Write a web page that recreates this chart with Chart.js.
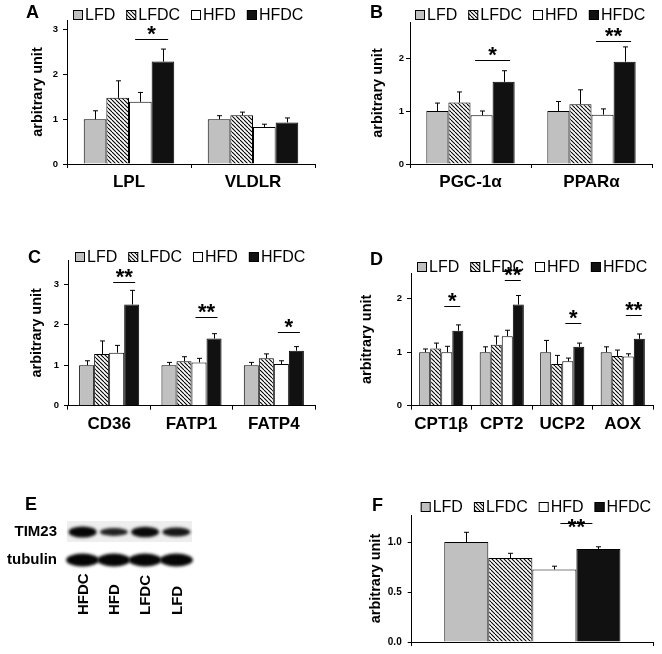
<!DOCTYPE html>
<html>
<head>
<meta charset="utf-8">
<script src="https://cdn.jsdelivr.net/npm/chart.js@4.4.0/dist/chart.umd.min.js"></script>
<style>
  body { margin: 0; background: #fff; }
  #fig { position: relative; width: 662px; height: 654px; font-family: "Liberation Sans", Arial, sans-serif; }
  #fig canvas { position: absolute; }
  .lettre { position: absolute; font-weight: bold; font-size: 18px; line-height: 18px; color: #000; }
</style>
</head>
<body>
<div id="fig">
  <canvas id="chartA" width="331" height="200" style="left:0;top:0"></canvas>
  <canvas id="chartB" width="331" height="200" style="left:331px;top:0"></canvas>
  <canvas id="chartC" width="331" height="230" style="left:0;top:210px"></canvas>
  <canvas id="chartD" width="331" height="230" style="left:331px;top:210px"></canvas>
  <canvas id="chartE" width="200" height="140" style="left:0;top:490px"></canvas>
  <canvas id="chartF" width="331" height="164" style="left:331px;top:490px"></canvas>
  <div class="lettre" style="left:26px;top:3px">A</div>
  <div class="lettre" style="left:370px;top:3px">B</div>
  <div class="lettre" style="left:28px;top:248px">C</div>
  <div class="lettre" style="left:370px;top:250px">D</div>
  <div class="lettre" style="left:25px;top:495px">E</div>
  <div class="lettre" style="left:372px;top:496px">F</div>
</div>
<script>
// ordre des séries dans chaque tableau : LFD, LFDC, HFD, HFDC
const groupes = ['LFD', 'LFDC', 'HFD', 'HFDC'];

// A - lipoprotéines
const genesA = ['LPL', 'VLDLR'];
const moyA = [[1.00, 1.00], [1.48, 1.09], [1.39, 0.83], [2.29, 0.93]];
const semA = [[0.19, 0.08], [0.38, 0.07], [0.21, 0.06], [0.28, 0.10]];
const sigA = [2.80, null];
const etoilesA = ['*', ''];

// B
const genesB = ['PGC-1α', 'PPARα'];
const moyB = [[1.00, 1.00], [1.16, 1.13], [0.92, 0.93], [1.55, 1.93]];
const semB = [[0.15, 0.18], [0.20, 0.27], [0.08, 0.11], [0.21, 0.28]];
const sigB = [1.96, 2.33];
const etoilesB = ['*', '**'];

// C
const genesC = ['CD36', 'FATP1', 'FATP4'];
const moyC = [[1.00, 1.00, 1.00], [1.28, 1.10, 1.17], [1.31, 1.07, 1.03], [2.50, 1.66, 1.36]];
const semC = [[0.11, 0.07, 0.07], [0.32, 0.11, 0.11], [0.18, 0.10, 0.08], [0.35, 0.12, 0.10]];
const sigC = [3.05, 2.18, 1.82];
const etoilesC = ['**', '**', '*'];

// D
const genesD = ['CPT1β', 'CPT2', 'UCP2', 'AOX'];
const moyD = [[1.00, 1.00, 1.00, 1.00], [1.07, 1.14, 0.78, 0.93], [1.00, 1.30, 0.83, 0.92], [1.40, 1.89, 1.10, 1.25]];
const semD = [[0.06, 0.10, 0.22, 0.10], [0.10, 0.16, 0.16, 0.11], [0.11, 0.11, 0.06, 0.05], [0.11, 0.17, 0.07, 0.09]];
const sigD = [1.86, 2.34, 1.55, 1.69];
const etoilesD = ['*', '**', '*', '**'];

// E - western blot (intensité relative des bandes)
const pistesE = ['HFDC', 'HFD', 'LFDC', 'LFD'];
const lignesE = ['TIM23', 'tubulin'];
const tim23E = [1.00, 0.70, 0.95, 0.82];
const tubulinE = [1.00, 1.00, 1.00, 1.00];

// F - TIM23 quantifié
const genesF = [''];
const moyF = [[1.00], [0.84], [0.726], [0.929]];
const semF = [[0.097], [0.047], [0.032], [0.023]];
const sigF = [1.187];
const etoilesF = ['**'];

const police = '"Liberation Sans", Arial, sans-serif';
Chart.defaults.font.family = police;
Chart.defaults.color = '#000';

function hachures() {
  const c = document.createElement('canvas');
  c.width = 4; c.height = 4;
  const g = c.getContext('2d');
  g.fillStyle = '#fff';
  g.fillRect(0, 0, 4, 4);
  g.strokeStyle = '#000';
  g.lineWidth = 1.1;
  for (const k of [-4, 0, 4]) {
    g.beginPath(); g.moveTo(k, 0); g.lineTo(k + 4, 4); g.stroke();
  }
  return g.createPattern(c, 'repeat');
}
const couleurs = ['#c0c0c0', hachures(), '#ffffff', '#111111'];

const legende = {
  id: 'legende',
  afterDraw(chart, args, opts) {
    const ctx = chart.ctx;
    let x = chart.chartArea.left + opts.dx;
    const y = chart.chartArea.top + opts.dy;
    ctx.save();
    ctx.font = '16px ' + police;
    ctx.textBaseline = 'middle';
    chart.data.datasets.forEach(ds => {
      ctx.fillStyle = ds.backgroundColor;
      ctx.fillRect(x, y - 5, 10, 10);
      ctx.strokeStyle = '#000';
      ctx.lineWidth = 1;
      ctx.strokeRect(x + 0.5, y - 4.5, 9, 9);
      ctx.fillStyle = '#000';
      ctx.fillText(ds.label, x + 12, y + 1);
      x += 12 + ctx.measureText(ds.label).width + opts.ecart;
    });
    ctx.restore();
  }
};

const barresErreur = {
  id: 'barresErreur',
  afterDatasetsDraw(chart, args, opts) {
    const ctx = chart.ctx, ys = chart.scales.y;
    ctx.save();
    ctx.strokeStyle = '#000';
    ctx.lineWidth = 1;
    chart.data.datasets.forEach((ds, i) => {
      chart.getDatasetMeta(i).data.forEach((bar, j) => {
        const haut = ys.getPixelForValue(ds.data[j] + ds.sem[j]);
        const x = Math.round(bar.x) + 0.5;
        ctx.beginPath();
        ctx.moveTo(x, bar.y); ctx.lineTo(x, haut);
        ctx.moveTo(x - 2.5, haut); ctx.lineTo(x + 2.5, haut);
        ctx.stroke();
      });
    });
    // traits de significativité HFD vs HFDC
    const hfd = chart.getDatasetMeta(2).data, hfdc = chart.getDatasetMeta(3).data;
    ctx.font = 'bold 22px ' + police;
    ctx.textAlign = 'center';
    ctx.fillStyle = '#000';
    opts.niveaux.forEach((niv, j) => {
      if (niv == null) return;
      const xm = (hfd[j].x + hfdc[j].x) / 2;
      const y = Math.round(ys.getPixelForValue(niv)) + 0.5;
      ctx.beginPath();
      ctx.moveTo(xm - opts.demi, y); ctx.lineTo(xm + opts.demi, y);
      ctx.stroke();
      ctx.fillText(opts.etoiles[j], xm, y + opts.dy);
    });
    ctx.restore();
  }
};

function panneau(id, cats, moy, sem, sig, etoiles, r) {
  const datasets = groupes.map((g, i) => ({
    label: g,
    data: moy[i],
    sem: sem[i],
    backgroundColor: couleurs[i],
    borderColor: '#000',
    borderWidth: 1,
    categoryPercentage: 0.73,
    barPercentage: 1
  }));
  const axe = { display: true, drawOnChartArea: false, drawTicks: true, tickLength: 4, color: '#000' };
  return new Chart(document.getElementById(id), {
    type: 'bar',
    data: { labels: cats, datasets: datasets },
    options: {
      responsive: false,
      animation: false,
      layout: { padding: { top: r.haut, right: r.droite, left: 0, bottom: 0 } },
      plugins: {
        legend: { display: false },
        tooltip: { enabled: false },
        legende: { dx: r.legX, dy: r.legY, ecart: 11 },
        barresErreur: { niveaux: sig, etoiles: etoiles, demi: r.demi, dy: r.etoileDy }
      },
      scales: {
        x: {
          grid: axe,
          border: { color: '#000' },
          ticks: { color: '#000', font: { size: 17, weight: 'bold' }, padding: 4, maxRotation: 0, autoSkip: false },
          afterFit: s => { s.height = r.basX; }
        },
        y: {
          min: 0,
          max: r.max,
          grid: axe,
          border: { color: '#000' },
          ticks: {
            stepSize: r.pas,
            includeBounds: false,
            color: '#000',
            padding: r.tickPad,
            font: { size: r.tickTaille, weight: 'bold' },
            callback: v => r.pas < 1 ? v.toFixed(1) : v
          },
          afterBuildTicks: s => {
            s.ticks = s.ticks.filter(t => Math.abs(t.value / r.pas - Math.round(t.value / r.pas)) < 1e-6);
          },
          title: {
            display: true,
            text: 'arbitrary unit',
            color: '#000',
            font: { size: 14.5, weight: 'bold' },
            padding: { top: r.titrePad, bottom: 0 }
          },
          afterFit: s => { s.width = r.gauche; }
        }
      }
    },
    plugins: [legende, barresErreur]
  });
}

panneau('chartA', genesA, moyA, semA, sigA, etoilesA,
  { gauche: 67, haut: 20, droite: 16, basX: 36, max: 3.22, pas: 1, titrePad: 29.3, tickPad: 5, tickTaille: 9.5,
    legX: 6, legY: -5, demi: 16.5, etoileDy: 1.5 });
panneau('chartB', genesB, moyB, semB, sigB, etoilesB,
  { gauche: 79, haut: 22, droite: 10, basX: 36, max: 2.68, pas: 1, titrePad: 38.3, tickPad: 2, tickTaille: 9.5,
    legX: 5, legY: -7, demi: 17.5, etoileDy: 1.5 });
panneau('chartC', genesC, moyC, semC, sigC, etoilesC,
  { gauche: 68, haut: 50, droite: 16, basX: 34.3, max: 3.6, pas: 1, titrePad: 28.3, tickPad: 5, tickTaille: 9.5,
    legX: 7, legY: -3, demi: 11, etoileDy: 1.5 });
panneau('chartD', genesD, moyD, semD, sigD, etoilesD,
  { gauche: 80, haut: 63, droite: 9, basX: 34.3, max: 2.48, pas: 1, titrePad: 27.3, tickPad: 5, tickTaille: 9.5,
    legX: 6, legY: -6, demi: 8, etoileDy: 1.5 });
panneau('chartF', genesF, moyF, semF, sigF, etoilesF,
  { gauche: 80.7, haut: 25, droite: 9, basX: 7.3, max: 1.27, pas: 0.5, titrePad: 36.3, tickPad: 6, tickTaille: 10,
    legX: 9, legY: -8, demi: 16, etoileDy: 10 });

// E : bandes de western blot placées par les échelles de Chart.js
const blot = {
  id: 'blot',
  beforeDatasetsDraw(chart) {
    const { ctx, chartArea: a, scales: { x, y } } = chart;
    ctx.save();
    const yT = y.getPixelForValue(0);
    ctx.fillStyle = '#eeeeee';
    ctx.fillRect(a.left, yT - 11, a.width, 21);
    ctx.filter = 'blur(1.5px)';
    [tim23E, tubulinE].forEach((sig, r) => {
      const yc = y.getPixelForValue(r);
      sig.forEach((s, i) => {
        const xc = x.getPixelForValue(i);
        const larg = r === 0 ? 14 : 16.5;
        const h = r === 0 ? 5.6 * s : 6.5;
        ctx.fillStyle = 'rgba(5,5,5,' + (0.6 + 0.4 * s) + ')';
        ctx.beginPath();
        ctx.ellipse(xc, yc, larg, h, 0, 0, Math.PI * 2);
        ctx.fill();
      });
    });
    ctx.restore();
  },
  afterDraw(chart) {
    const { ctx, scales: { x } } = chart;
    ctx.save();
    ctx.font = 'bold 15px ' + police;
    ctx.fillStyle = '#000';
    ctx.textAlign = 'left';
    ctx.textBaseline = 'middle';
    pistesE.forEach((p, i) => {
      ctx.save();
      ctx.translate(x.getPixelForValue(i) + 1, 125);
      ctx.rotate(-Math.PI / 2);
      ctx.fillText(p, 0, 0);
      ctx.restore();
    });
    ctx.restore();
  }
};

new Chart(document.getElementById('chartE'), {
  type: 'bar',
  data: { labels: pistesE, datasets: [] },
  options: {
    responsive: false,
    animation: false,
    layout: { padding: { top: 28, right: 8, left: 0, bottom: 56 } },
    plugins: { legend: { display: false }, tooltip: { enabled: false } },
    scales: {
      x: { display: false },
      y: {
        type: 'category',
        labels: lignesE,
        offset: true,
        grid: { display: false, drawTicks: false },
        border: { display: false },
        ticks: { color: '#000', padding: 10, font: { size: 15, weight: 'bold' } },
        afterFit: s => { s.width = 67; }
      }
    }
  },
  plugins: [blot]
});
</script>
</body>
</html>
